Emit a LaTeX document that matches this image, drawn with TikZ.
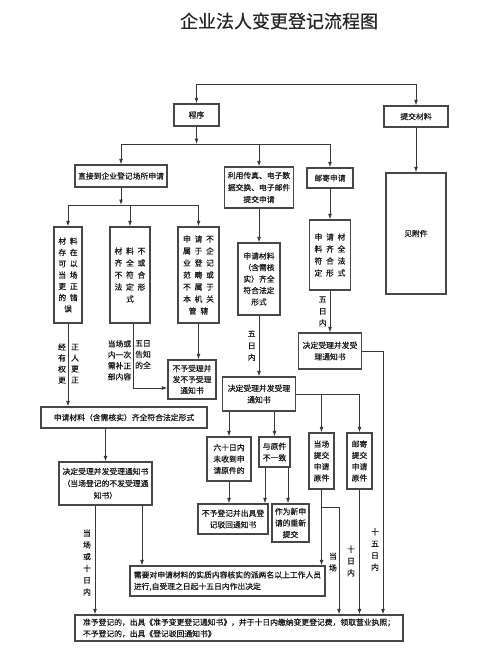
\documentclass[tikz,border=0pt]{standalone}
\usepackage{fontspec}
\setmainfont{Noto Sans CJK SC}[FakeBold=0.4]
\usetikzlibrary{arrows.meta,calc}
\newcommand\myfs{\fontsize{7.8}{11.5}\selectfont}
\newcommand\myspr[1]{\mysprx#1\relax}
\def\mysprx#1{\ifx\relax#1\else\makebox[11.5pt]{#1}\expandafter\mysprx\fi}
\tikzset{
  box/.style={draw=black!72, line width=1.1pt, inner sep=0pt, align=center, font=\myfs, text=black!90},
  arr/.style={-{Latex[length=5.5pt,width=3.8pt]}, line width=0.8pt, draw=black!78},
  ln/.style={line width=0.8pt, draw=black!78},
  lbl/.style={inner sep=0pt, align=center, font=\fontsize{7.8}{11.8}\selectfont, text=black!90},
}
\begin{document}
\begin{tikzpicture}[x=1pt,y=-1pt]
\useasboundingbox (0,0) rectangle (500,649);
\fill[white] (0,0) rectangle (500,649);

\node[font=\fontsize{18}{20}\selectfont, text=black!85] (title) at (279,21) {企业法人变更登记流程图};

% boxes
\node[box,minimum width=45,minimum height=22] (cx) at (196.5,115) {程序};
\node[box,minimum width=64,minimum height=21] (tj) at (416,116.5) {提交材料};
\node[box,minimum width=92,minimum height=22] (zj) at (121,176) {直接到企业登记场所申请};
\node[box,minimum width=69,minimum height=41,font=\fontsize{7.8}{12}\selectfont] (cz) at (259,187.5) {利用传真、电子数\\据交换、电子邮件\\提交申请};
\node[box,minimum width=46,minimum height=20] (yj) at (330,178) {邮寄申请};
\node[box,minimum width=60,minimum height=121] (fj) at (416,233.5) {见附件};

\node[box,minimum width=28,minimum height=96,font=\fontsize{7.8}{11.3}\selectfont] (bA) at (68,275)
  {\myspr{材料}\\\myspr{存在}\\\myspr{可以}\\\myspr{当场}\\\myspr{更正}\\\myspr{的错}\\\myspr{误}};
\node[box,minimum width=40,minimum height=96,font=\fontsize{7.8}{12}\selectfont] (bB) at (130,275)
  {\myspr{材料不}\\\myspr{齐全或}\\\myspr{不符合}\\\myspr{法定形}\\\myspr{式}};
\node[box,minimum width=41,minimum height=96,font=\fontsize{7.8}{12}\selectfont] (bC) at (198.5,275)
  {\myspr{申请不}\\\myspr{属于企}\\\myspr{业登记}\\\myspr{范畴或}\\\myspr{不属于}\\\myspr{本机关}\\\myspr{管辖}};
\node[box,minimum width=42,minimum height=72] (bD) at (259,279) {申请材料\\（含需核\\实）齐全\\符合法定\\形式};
\node[box,minimum width=41,minimum height=70,font=\fontsize{7.8}{12}\selectfont] (bE) at (330,255)
  {\myspr{申请材}\\\myspr{料齐全}\\\myspr{符合法}\\\myspr{定形式}};
\node[box,minimum width=63,minimum height=36] (bF) at (330,351) {决定受理并发受\\理通知书};
\node[box,minimum width=48,minimum height=39,font=\fontsize{7.8}{11}\selectfont] (bH) at (192,379.5) {不予受理并\\发不予受理\\通知书};
\node[box,minimum width=73,minimum height=34] (bG) at (259,394) {决定受理并发受理\\通知书};
\node[box,minimum width=166,minimum height=21] (bI) at (124,417.5) {申请材料（含需核实）齐全符合法定形式};
\node[box,minimum width=93,minimum height=43,font=\fontsize{7.8}{12}\selectfont] (bJ) at (105.5,483.5) {决定受理并发受理通知书\\（当场登记的不发受理通\\知书）};
\node[box,minimum width=44,minimum height=44] (b60) at (229,459) {六十日内\\未收到申\\请原件的};
\node[box,minimum width=31,minimum height=30] (byz) at (274.5,452) {与原件\\不一致};
\node[box,minimum width=25,minimum height=56,font=\fontsize{7.8}{11.3}\selectfont] (bdc) at (321.5,461) {当场\\提交\\申请\\原件};
\node[box,minimum width=25,minimum height=56,font=\fontsize{7.8}{11.3}\selectfont] (byj) at (359.5,461) {邮寄\\提交\\申请\\原件};
\node[box,minimum width=70,minimum height=30] (bbu) at (233,519) {不予登记并出具登\\记驳回通知书};
\node[box,minimum width=37,minimum height=38] (bxs) at (290.5,523) {作为新申\\请的重新\\提交};
\node[box,minimum width=195,minimum height=30,align=left] (bK) at (227.5,581) {需要对申请材料的实质内容核实的派两名以上工作人员\\进行,自受理之日起十五日内作出决定};
\node[box,minimum width=328,minimum height=26,align=left] (bL) at (239,628) {准予登记的，出具《准予变更登记通知书》，并于十日内缴纳变更登记费，领取营业执照；\\不予登记的，出具《登记驳回通知书》};

% top connectors
\coordinate (t1) at (196.5,84);
\coordinate (t2) at (416,84);
\draw[ln] (t1) -- (t2);
\draw[arr] (t1) -- (cx.north);
\draw[arr] (t2) -- (tj.north);
\draw[arr] (tj.south) -- (fj.north);

\coordinate (h1L) at (121,144);
\coordinate (h1R) at (330,144);
\draw[arr] (cx.south) -- (cx.south |- h1L);
\draw[ln] (h1L) -- (h1R);
\draw[arr] (h1L) -- (zj.north);
\draw[arr] (cz.north |- h1L) -- (cz.north);
\draw[arr] (h1R) -- (yj.north);

\coordinate (h2L) at (68,205);
\coordinate (h2R) at (198.5,205);
\draw[arr] (zj.south) -- (zj.south |- h2L);
\draw[ln] (h2L) -- (h2R);
\draw[arr] (h2L) -- (bA.north);
\draw[arr] (bB.north |- h2L) -- (bB.north);
\draw[arr] (h2R) -- (bC.north);

\draw[arr] (cz.south) -- (bD.north);
\draw[arr] (yj.south) -- (bE.north);
\draw[arr] (bE.south) -- (bF.north) node[lbl,midway,left=3pt] (l5a) {五\\日\\内};
\draw[arr] (bD.south) -- (bG.north) node[lbl,midway,left=3pt] (l5b) {五\\日\\内};

\coordinate (c15) at (383,351);
\draw[arr] (bF.east) -- (c15) -- (c15 |- bL.north);
\node[lbl] (l15) at (375,549.5) {十\\五\\日\\内};

\draw[ln] (bG.east) -- (bG.east -| byj.north);
\draw[arr] (bG.east -| bdc.north) -- (bdc.north);
\draw[arr] (bG.east -| byj.north) -- (byj.north);
\draw[arr] (b60.north |- bG.south) -- (b60.north);
\draw[arr] (byz.north |- bG.south) -- (byz.north);
\draw[arr] (b60.south) -- (b60.south |- bbu.north);
\draw[arr] ([xshift=-9.5pt]byz.south) -- ([xshift=-9.5pt]byz.south |- bbu.north);
\draw[arr] ([xshift=13.5pt]byz.south) -- ([xshift=13.5pt]byz.south |- bxs.north);

\draw[arr] (bdc.south) -- (bdc.south |- bK.north);
\coordinate (c339) at (339,507);
\draw[arr] (bdc.south |- c339) -- (c339) -- (c339 |- bL.north);
\node[lbl] (ldc) at (333,562) {当\\场};
\draw[arr] (byj.south) -- (byj.south |- bL.north);
\node[lbl] (l10) at (351,561) {十\\日\\内};

% left branch
\draw[arr] (bA.south) -- (bA.south |- bI.north);
\node[lbl,font=\fontsize{7.8}{11}\selectfont] (lgA) at (62,363.5) {经\\有\\权\\更};
\node[lbl,font=\fontsize{7.8}{11}\selectfont] (lgB) at (75,363.5) {正\\人\\更\\正};
\draw[arr] ([xshift=3pt]bB.south) |- ([yshift=-8.5pt]bH.west);
\node[lbl,font=\fontsize{7.8}{11}\selectfont,anchor=north] (lbq1) at (119.5,340) {当场或\\内一次\\需补正\\部内容};
\node[lbl,font=\fontsize{7.8}{11}\selectfont,anchor=north] (lbq2) at (143,340) {五日\\告知\\的全};
\draw[arr] (bC.south) -- (bC.south |- bH.north);

\draw[arr] (bJ.north |- bI.south) -- (bJ.north);
\draw[arr] ([xshift=-10.5pt]bJ.south) -- ([xshift=-10.5pt]bJ.south |- bL.north);
\node[lbl] (ldh) at (87,562.5) {当\\场\\或\\十\\日\\内};
\draw[arr] ([xshift=36.5pt]bJ.south) -- ([xshift=36.5pt]bJ.south |- bK.north);
\end{tikzpicture}
\end{document}
